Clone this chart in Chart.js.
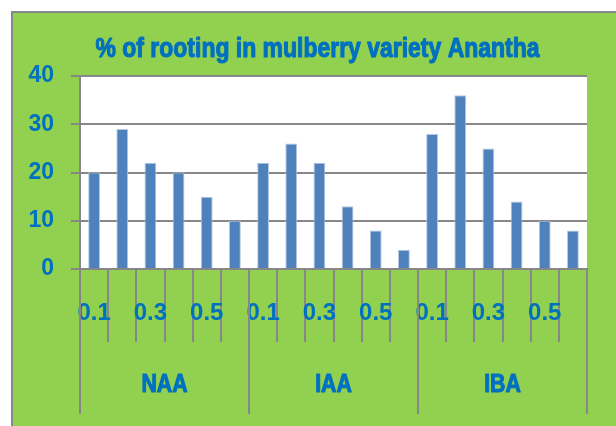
<!DOCTYPE html>
<html>
<head>
<meta charset="utf-8">
<script src="https://cdn.jsdelivr.net/npm/chart.js@4/dist/chart.umd.min.js"></script>
<style>
html,body{margin:0;padding:0;background:#fff;}
#wrap{position:absolute;left:0;top:0;width:616px;height:426px;}
</style>
</head>
<body>
<div id="wrap"><canvas id="c" width="616" height="426"></canvas></div>
<script>
// ---- data ----
const groups = ["NAA", "IAA", "IBA"];
const concentrations = ["0.1", "0.2", "0.3", "0.4", "0.5", "0.6"];
const naaValues = [20, 29, 22, 20, 15, 10];
const iaaValues = [22, 26, 22, 13, 8, 4];
const ibaValues = [28, 36, 25, 14, 10, 8];
const yTicks = [0, 10, 20, 30, 40];
const titleText = "% of rooting in mulberry variety Anantha";

const labels = [];
groups.forEach(() => concentrations.forEach(c => labels.push(c)));
const values = [].concat(naaValues, iaaValues, ibaValues);

const BLUE_TXT = "#0070C0";
const GREEN = "#92D050";
const GRAY = "#878787";
const REG = '"Liberation Sans", Arial, sans-serif';

function narrowText(ctx, text, x, y, size, sx) {
  ctx.save();
  ctx.translate(x, y);
  ctx.scale(sx, 1);
  ctx.font = "bold " + size + "px " + REG;
  ctx.textAlign = "center";
  ctx.textBaseline = "alphabetic";
  ctx.fillStyle = BLUE_TXT;
  ctx.strokeStyle = BLUE_TXT;
  ctx.lineWidth = 1.1;
  ctx.lineJoin = "round";
  ctx.fillText(text, 0, 0);
  ctx.strokeText(text, 0, 0);
  ctx.restore();
}

const bgPlugin = {
  id: "bg",
  beforeDraw(chart) {
    const ctx = chart.ctx, a = chart.chartArea;
    ctx.save();
    ctx.fillStyle = "#fff";
    ctx.fillRect(0, 0, chart.width, chart.height);
    ctx.fillStyle = GREEN;
    ctx.fillRect(12, 12, chart.width - 12, chart.height - 12);
    ctx.strokeStyle = GRAY;
    ctx.lineWidth = 2;
    ctx.beginPath();
    ctx.moveTo(12, 11); ctx.lineTo(12, chart.height);
    ctx.moveTo(11, 12); ctx.lineTo(chart.width, 12);
    ctx.stroke();
    ctx.fillStyle = "#fff";
    ctx.fillRect(a.left, a.top, a.right - a.left, a.bottom - a.top);
    ctx.restore();
  },
  afterDraw(chart) {
    const ctx = chart.ctx, x = chart.scales.x, a = chart.chartArea;
    const n = concentrations.length;
    const half = (x.getPixelForValue(1) - x.getPixelForValue(0)) / 2;
    ctx.save();
    ctx.strokeStyle = GRAY;
    ctx.lineWidth = 2;
    ctx.beginPath();
    for (let g = 0; g <= groups.length; g++) {
      const px = g < groups.length ? x.getPixelForValue(g * n) - half : x.getPixelForValue(g * n - 1) + half;
      ctx.moveTo(px, a.bottom);
      ctx.lineTo(px, a.bottom + 145);
    }
    ctx.stroke();
    ctx.restore();
    groups.forEach((gname, g) => {
      const cx = (x.getPixelForValue(g * n) + x.getPixelForValue(g * n + n - 1)) / 2;
      narrowText(ctx, gname, cx, a.bottom + 123, 26, 0.82);
    });
    // title
    narrowText(ctx, titleText, 317.5, 57, 28, 0.82);
  }
};

new Chart(document.getElementById("c"), {
  type: "bar",
  data: {
    labels: labels,
    datasets: [{
      data: values,
      backgroundColor: "#4F81BD",
      borderColor: "#B3C8E2",
      borderWidth: 1,
      barPercentage: 0.42,
      categoryPercentage: 1
    }]
  },
  options: {
    responsive: false,
    animation: false,
    layout: { padding: { left: 19, right: 29, top: 76, bottom: 0 } },
    plugins: {
      legend: { display: false },
      tooltip: { enabled: false },
      title: { display: false }
    },
    scales: {
      x: {
        afterFit(s) { s.height = 157; },
        grid: { display: true, drawOnChartArea: false, offset: true, tickLength: 73, color: GRAY, lineWidth: 2 },
        border: { display: true, color: GRAY, width: 2 },
        ticks: {
          autoSkip: false, maxRotation: 0, minRotation: 0,
          padding: -43,
          color: BLUE_TXT,
          font: { family: REG, size: 24, weight: "bold" },
          callback: function(v, i) { return i % 2 === 0 ? this.getLabelForValue(v) : ""; }
        }
      },
      y: {
        min: 0, max: 40,
        afterFit(s) { s.width = 61; },
        afterBuildTicks(s) { s.ticks = yTicks.map(v => ({ value: v })); },
        grid: { color: GRAY, lineWidth: 2, tickLength: 9 },
        border: { display: true, color: GRAY, width: 2 },
        ticks: {
          padding: 17,
          color: BLUE_TXT,
          font: { family: REG, size: 23, weight: "bold" }
        }
      }
    }
  },
  plugins: [bgPlugin]
});
</script>
</body>
</html>
